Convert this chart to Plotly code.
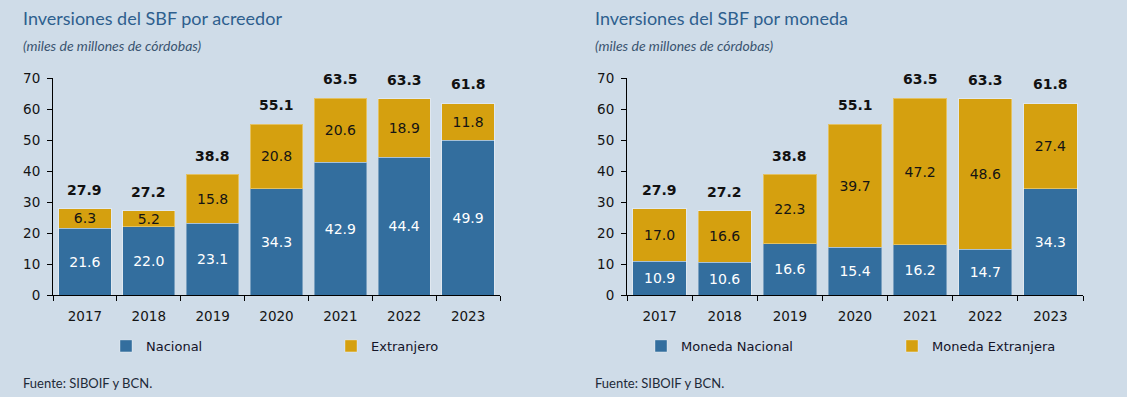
import plotly.graph_objects as go

years = ['2017', '2018', '2019', '2020', '2021', '2022', '2023']
nacional = [21.6, 22.0, 23.1, 34.3, 42.9, 44.4, 49.9]
extranjero = [6.3, 5.2, 15.8, 20.8, 20.6, 18.9, 11.8]
total_acreedor = [27.9, 27.2, 38.8, 55.1, 63.5, 63.3, 61.8]
moneda_nacional = [10.9, 10.6, 16.6, 15.4, 16.2, 14.7, 34.3]
moneda_extranjera = [17.0, 16.6, 22.3, 39.7, 47.2, 48.6, 27.4]
total_moneda = [27.9, 27.2, 38.8, 55.1, 63.5, 63.3, 61.8]
y_ticks = [0, 10, 20, 30, 40, 50, 60, 70]

W, H = 1127, 397
BG = '#CFDCE8'
BLUE = '#336E9E'
GOLD = '#D5A00F'
FONT = 'DejaVu Sans'

def px(x):
    return x / W

def py(y):
    return 1 - y / H

fig = go.Figure()

def add_bars(xa, ya, s1, s2, n1, n2, leg):
    fig.add_trace(go.Bar(
        x=years, y=s1, name=n1, xaxis=xa, yaxis=ya, legend=leg,
        marker=dict(color=BLUE, line=dict(color='rgba(255,255,255,0.35)', width=1)),
        texttemplate='%{y:.1f}', textposition='inside', insidetextanchor='middle',
        constraintext='none', textangle=0,
        textfont=dict(family=FONT, size=14, color='white'),
    ))
    fig.add_trace(go.Bar(
        x=years, y=s2, name=n2, xaxis=xa, yaxis=ya, legend=leg,
        marker=dict(color=GOLD, line=dict(color='rgba(255,255,255,0.35)', width=1)),
        texttemplate='%{y:.1f}', textposition='inside', insidetextanchor='middle',
        constraintext='none', textangle=0,
        textfont=dict(family=FONT, size=14, color='#141414'),
    ))

add_bars('x', 'y', nacional, extranjero, 'Nacional', 'Extranjero', 'legend')
add_bars('x2', 'y2', moneda_nacional, moneda_extranjera, 'Moneda Nacional', 'Moneda Extranjera', 'legend2')

annotations = []
for xr, yr, totals in [('x', 'y', total_acreedor), ('x2', 'y2', total_moneda)]:
    for i, t in enumerate(totals):
        annotations.append(dict(
            x=i, y=t, xref=xr, yref=yr, text='<b>%.1f</b>' % t, showarrow=False,
            yanchor='bottom', yshift=9, font=dict(family=FONT, size=14, color='#111111')))

TITLE_COL = '#2E5F8E'
for x0, title in [(21, 'Inversiones del SBF por acreedor'), (593, 'Inversiones del SBF por moneda')]:
    annotations.append(dict(x=px(x0), y=py(18), xref='paper', yref='paper', text=title,
                            showarrow=False, xanchor='left', yanchor='middle',
                            font=dict(family='Lato', size=18, color=TITLE_COL)))
    annotations.append(dict(x=px(x0), y=py(45), xref='paper', yref='paper',
                            text='<i>(miles de millones de córdobas)</i>',
                            showarrow=False, xanchor='left', yanchor='middle',
                            font=dict(family='Lato', size=14, color='#3A5470')))
    annotations.append(dict(x=px(x0), y=py(383), xref='paper', yref='paper',
                            text='Fuente: SIBOIF y BCN.',
                            showarrow=False, xanchor='left', yanchor='middle',
                            font=dict(family='Lato', size=13, color='#1E2A38')))

axis_common_x = dict(type='category', range=[-0.5, 6.5], showline=True, linecolor='black', linewidth=1,
                     ticks='outside', tickson='boundaries', ticklen=5, tickcolor='black',
                     showgrid=False, tickfont=dict(family=FONT, size=13.5, color='#141414'),
                     ticklabelstandoff=9, fixedrange=True, tickangle=0)
axis_common_y = dict(range=[0, 70], tickvals=y_ticks, showline=True, linecolor='black',
                     linewidth=1, ticks='outside', ticklen=5, tickcolor='black',
                     showgrid=False, zeroline=False, ticklabelstandoff=4,
                     tickfont=dict(family=FONT, size=13.5, color='#141414'), fixedrange=True)

fig.update_layout(
    width=W, height=H, margin=dict(l=0, r=0, t=0, b=0, autoexpand=False),
    paper_bgcolor=BG, plot_bgcolor=BG, barmode='stack', bargap=0.18,
    showlegend=True,
    xaxis=dict(domain=[px(53), px(500)], anchor='y', **axis_common_x),
    yaxis=dict(domain=[py(295), py(78)], anchor='x', **axis_common_y),
    xaxis2=dict(domain=[px(627), px(1083)], anchor='y2', **axis_common_x),
    yaxis2=dict(domain=[py(295), py(78)], anchor='x2', **axis_common_y),
    legend=dict(orientation='h', x=px(106), y=py(346), xanchor='left', yanchor='middle',
                entrywidth=180, entrywidthmode='pixels', bgcolor='rgba(0,0,0,0)',
                font=dict(family=FONT, size=13, color='#141428'), traceorder='normal'),
    legend2=dict(orientation='h', x=px(641), y=py(346), xanchor='left', yanchor='middle',
                 entrywidth=206, entrywidthmode='pixels', bgcolor='rgba(0,0,0,0)',
                 font=dict(family=FONT, size=13, color='#141428'), traceorder='normal'),
    annotations=annotations,
)

fig.write_html('out.html', config={'displayModeBar': False})
with open('out.html', encoding='utf-8') as f:
    html = f.read()
html = html.replace('<body>', '<body style="margin:0;overflow:hidden">', 1)
with open('out.html', 'w', encoding='utf-8') as f:
    f.write(html)
